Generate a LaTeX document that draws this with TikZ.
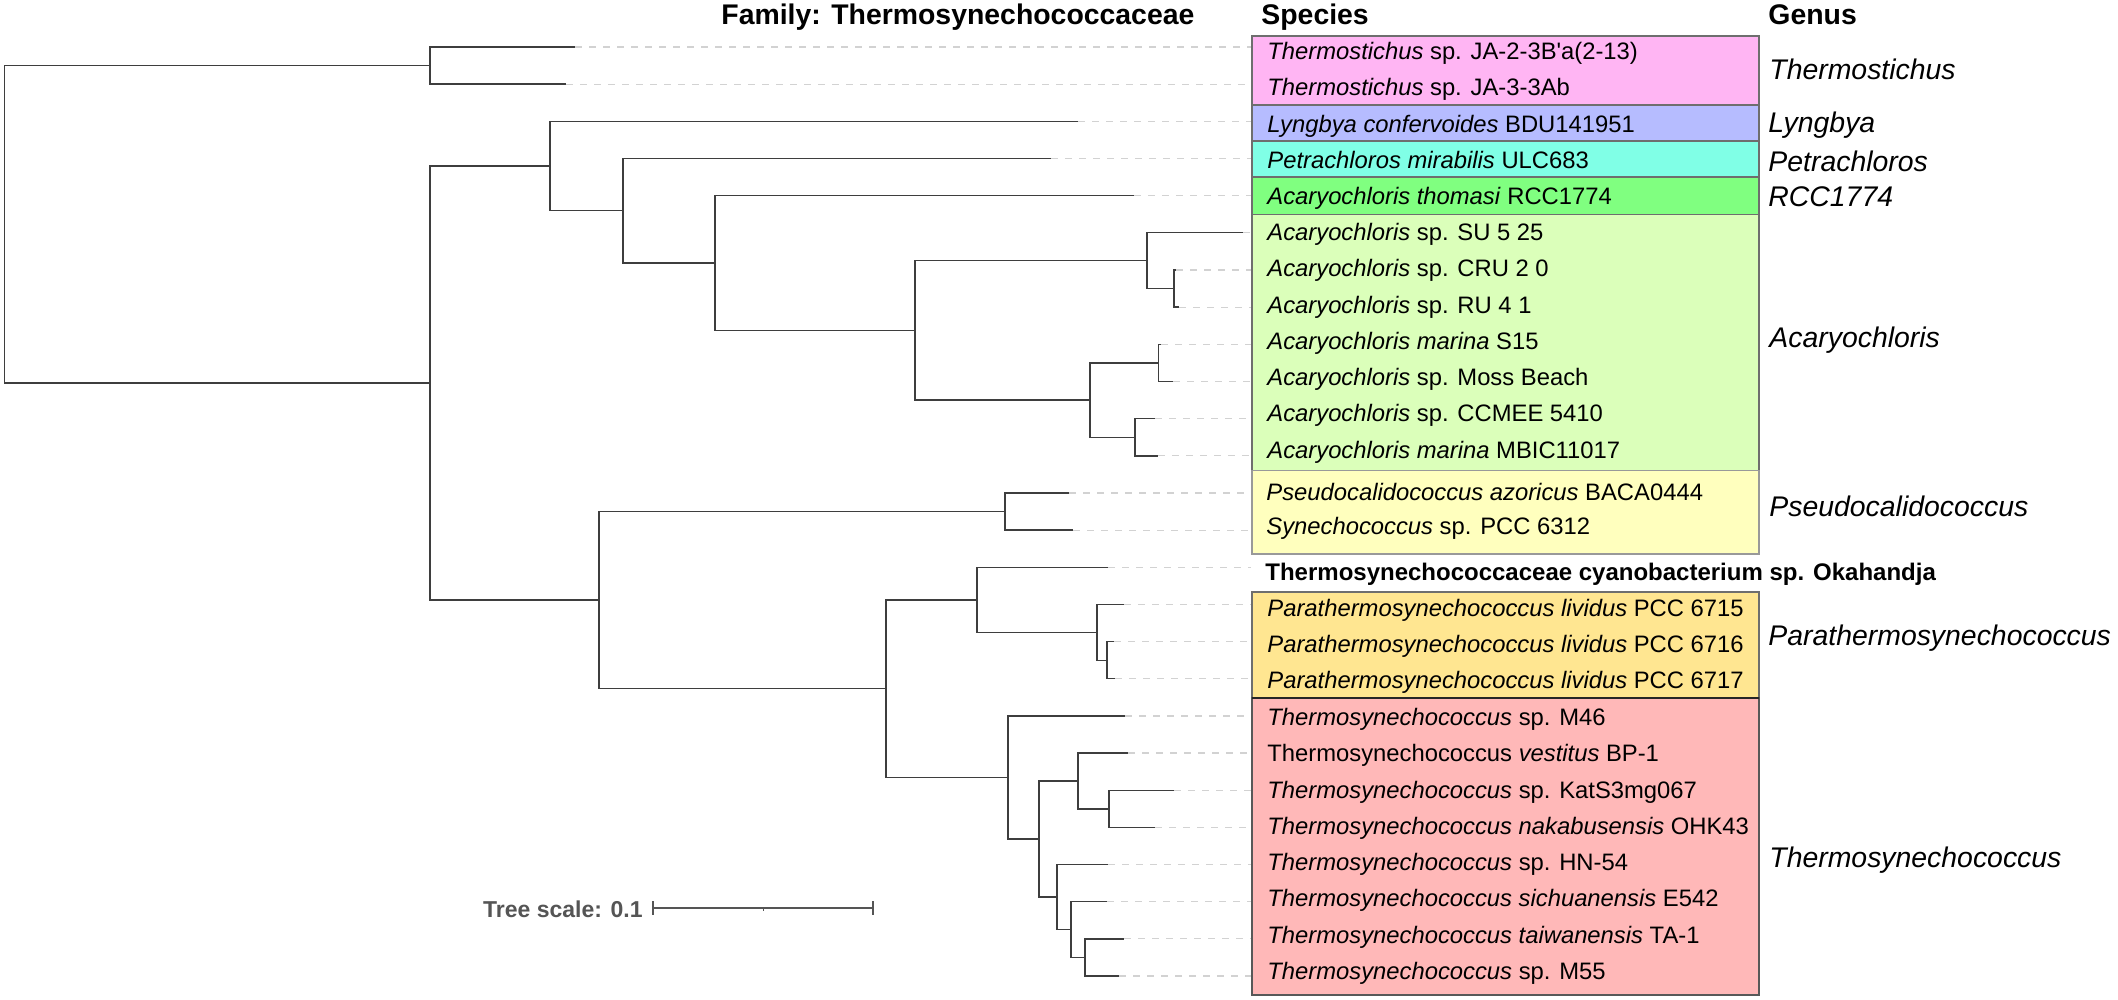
\documentclass[tikz,border=0pt]{standalone}
\usepackage{fontspec}
\setmainfont{Liberation Sans}
\newfontfamily\plainarial{Liberation Sans}
\definecolor{treeline}{HTML}{3E3E3E}
\definecolor{leadcol}{HTML}{D2D2D2}
\definecolor{boxline}{HTML}{6E6E6E}
\definecolor{scalecol}{HTML}{555555}
\definecolor{cTs}{HTML}{FFB5F3}
\definecolor{cLy}{HTML}{B6BCFF}
\definecolor{cPe}{HTML}{80FFE6}
\definecolor{cRC}{HTML}{80FF80}
\definecolor{cAc}{HTML}{DBFFBA}
\definecolor{cPs}{HTML}{FFFFBE}
\definecolor{cPa}{HTML}{FFE691}
\definecolor{cTh}{HTML}{FFB8B8}
\begin{document}
\begin{tikzpicture}[x=0.5pt,y=-0.5pt,
  br/.style={draw=treeline,line width=0.7pt},
  lead/.style={draw=leadcol,line width=0.6pt,dash pattern=on 3.5pt off 3.5pt},
  gbox/.style={draw=boxline,line width=0.6pt},
  sp/.style={anchor=base west,inner sep=0pt,font=\fontsize{11.9}{14}\selectfont},
  gen/.style={anchor=base west,inner sep=0pt,font=\fontsize{14.2}{17}\selectfont\itshape},
  hdr/.style={anchor=base west,inner sep=0pt,font=\fontsize{14.2}{17}\selectfont\bfseries}]
\useasboundingbox[fill=white] (0,0) rectangle (2118,1000);

% ---------- colour boxes ----------
\draw[gbox,fill=cTs] (1252,36) rectangle (1759,105);
\draw[gbox,fill=cLy] (1252,105) rectangle (1759,141);
\draw[gbox,fill=cPe] (1252,141) rectangle (1759,177);
\draw[gbox,fill=cRC] (1252,177) rectangle (1759,214.5);
\draw[gbox,fill=cAc] (1252,214.5) rectangle (1759,470.5);
\draw[gbox,fill=cPs,draw=boxline!70] (1252,470.5) rectangle (1759,554);
\draw[gbox,fill=cPa] (1252,592) rectangle (1759,698);
\draw[gbox,fill=cTh,draw=boxline!80!black] (1252,698) rectangle (1759,995);
\draw[draw=black!85,line width=0.9pt] (1252,698) -- (1759,698);

% ---------- tips ----------
\coordinate (t0) at (575,47);
\coordinate (t1) at (566,84.2);
\coordinate (t2) at (1078,121.3);
\coordinate (t3) at (1051,158.5);
\coordinate (t4) at (1134,195.6);
\coordinate (t5) at (1243,232.8);
\coordinate (t6) at (1176,270.0);
\coordinate (t7) at (1179,307.1);
\coordinate (t8) at (1161,344.3);
\coordinate (t9) at (1173,381.4);
\coordinate (t10) at (1155,418.6);
\coordinate (t11) at (1158,455.8);
\coordinate (t12) at (1069,492.9);
\coordinate (t13) at (1073,530.1);
\coordinate (t14) at (1108,567.2);
\coordinate (t15) at (1124,604.4);
\coordinate (t16) at (1114,641.6);
\coordinate (t17) at (1115,678.7);
\coordinate (t18) at (1125,715.9);
\coordinate (t19) at (1128,753.0);
\coordinate (t20) at (1174,790.2);
\coordinate (t21) at (1155,827.4);
\coordinate (t22) at (1108,864.5);
\coordinate (t23) at (1107,901.7);
\coordinate (t24) at (1124,938.8);
\coordinate (t25) at (1119,976.0);

% ---------- internal nodes ----------
\coordinate (root) at (4.5,224.3);
\coordinate (nTs) at (430,65.6);
\coordinate (nA) at (430,383.0);
\coordinate (nLyn) at (550,166.0);
\coordinate (nPet) at (623,210.8);
\coordinate (nRCC) at (715,263.0);
\coordinate (nAc) at (915,330.4);
\coordinate (nSU) at (1147,260.7);
\coordinate (nCRU) at (1174,288.6);
\coordinate (nAc2) at (1090,400.0);
\coordinate (nS15) at (1158.5,362.9);
\coordinate (nCC) at (1135,437.2);
\coordinate (nLow) at (599,600.1);
\coordinate (nPs) at (1005,511.5);
\coordinate (nTP) at (886,688.6);
\coordinate (nOk) at (977,599.8);
\coordinate (nPara) at (1097,632.3);
\coordinate (nP67) at (1107,660.2);
\coordinate (nT) at (1008,777.4);
\coordinate (nT2) at (1039,839.0);
\coordinate (nBP) at (1078,780.9);
\coordinate (nK) at (1109,808.8);
\coordinate (nHN) at (1057,897.0);
\coordinate (nE) at (1071,929.6);
\coordinate (nTA) at (1085,957.4);

% ---------- leader lines ----------
\foreach \i in {0,...,25}{\draw[lead] (t\i) -- (t\i -| 1251,0);}

% ---------- branches ----------
\draw[br] (root) |- (nTs);  \draw[br] (root) |- (nA);
\draw[br] (nTs) |- (t0);    \draw[br] (nTs) |- (t1);
\draw[br] (nA) |- (nLyn);   \draw[br] (nA) |- (nLow);
\draw[br] (nLyn) |- (t2);   \draw[br] (nLyn) |- (nPet);
\draw[br] (nPet) |- (t3);   \draw[br] (nPet) |- (nRCC);
\draw[br] (nRCC) |- (t4);   \draw[br] (nRCC) |- (nAc);
\draw[br] (nAc) |- (nSU);   \draw[br] (nAc) |- (nAc2);
\draw[br] (nSU) |- (t5);    \draw[br] (nSU) |- (nCRU);
\draw[br] (nCRU) |- (t6);   \draw[br] (nCRU) |- (t7);
\draw[br] (nAc2) |- (nS15); \draw[br] (nAc2) |- (nCC);
\draw[br] (nS15) |- (t8);   \draw[br] (nS15) |- (t9);
\draw[br] (nCC) |- (t10);   \draw[br] (nCC) |- (t11);
\draw[br] (nLow) |- (nPs);  \draw[br] (nLow) |- (nTP);
\draw[br] (nPs) |- (t12);   \draw[br] (nPs) |- (t13);
\draw[br] (nTP) |- (nOk);   \draw[br] (nTP) |- (nT);
\draw[br] (nOk) |- (t14);   \draw[br] (nOk) |- (nPara);
\draw[br] (nPara) |- (t15); \draw[br] (nPara) |- (nP67);
\draw[br] (nP67) |- (t16);  \draw[br] (nP67) |- (t17);
\draw[br] (nT) |- (t18);    \draw[br] (nT) |- (nT2);
\draw[br] (nT2) |- (nBP);   \draw[br] (nT2) |- (nHN);
\draw[br] (nBP) |- (t19);   \draw[br] (nBP) |- (nK);
\draw[br] (nK) |- (t20);    \draw[br] (nK) |- (t21);
\draw[br] (nHN) |- (t22);   \draw[br] (nHN) |- (nE);
\draw[br] (nE) |- (t23);    \draw[br] (nE) |- (nTA);
\draw[br] (nTA) |- (t24);   \draw[br] (nTA) |- (t25);

% ---------- headers ----------
\node[hdr] (hfam) at (721,25) {Family: Thermosynechococcaceae};
\node[hdr] (hsp) at (1261,25) {Species};
\node[hdr] (hgen) at (1768,25) {Genus};

% ---------- species labels ----------
\node[sp] (s0) at (1267,60) {\textit{Thermostichus} sp. JA-2-3B{\plainarial'}a(2-13)};
\node[sp] (s1) at (1267,96) {\textit{Thermostichus} sp. JA-3-3Ab};
\node[sp] (s2) at (1267,132.5) {\textit{Lyngbya confervoides} BDU141951};
\node[sp] (s3) at (1267,168.5) {\textit{Petrachloros mirabilis} ULC683};
\node[sp] (s4) at (1267,204.5) {\textit{Acaryochloris thomasi} RCC1774};
\node[sp] (s5) at (1267,240.5) {\textit{Acaryochloris} sp. SU 5 25};
\node[sp] (s6) at (1267,277) {\textit{Acaryochloris} sp. CRU 2 0};
\node[sp] (s7) at (1267,313) {\textit{Acaryochloris} sp. RU 4 1};
\node[sp] (s8) at (1267,349) {\textit{Acaryochloris marina} S15};
\node[sp] (s9) at (1267,385.5) {\textit{Acaryochloris} sp. Moss Beach};
\node[sp] (s10) at (1267,421.7) {\textit{Acaryochloris} sp. CCMEE 5410};
\node[sp] (s11) at (1267,458.3) {\textit{Acaryochloris marina} MBIC11017};
\node[sp] (s12) at (1266,500) {\textit{Pseudocalidococcus azoricus} BACA0444};
\node[sp] (s13) at (1266,534) {\textit{Synechococcus} sp. PCC 6312};
\node[sp,font=\fontsize{12}{14}\selectfont\bfseries] (s14) at (1265,580) {Thermosynechococcaceae cyanobacterium sp. Okahandja};
\node[sp] (s15) at (1267,616) {\textit{Parathermosynechococcus lividus} PCC 6715};
\node[sp] (s16) at (1267,652) {\textit{Parathermosynechococcus lividus} PCC 6716};
\node[sp] (s17) at (1267,688) {\textit{Parathermosynechococcus lividus} PCC 6717};
\node[sp] (s18) at (1267,725) {\textit{Thermosynechococcus} sp. M46};
\node[sp] (s19) at (1267,761.7) {Thermosynechococcus \textit{vestitus} BP-1};
\node[sp] (s20) at (1267,798.3) {\textit{Thermosynechococcus} sp. KatS3mg067};
\node[sp] (s21) at (1267,834.3) {\textit{Thermosynechococcus nakabusensis} OHK43};
\node[sp] (s22) at (1267,870.7) {\textit{Thermosynechococcus} sp. HN-54};
\node[sp] (s23) at (1267,906.7) {\textit{Thermosynechococcus sichuanensis} E542};
\node[sp] (s24) at (1267,943.3) {\textit{Thermosynechococcus taiwanensis} TA-1};
\node[sp] (s25) at (1267,979.3) {\textit{Thermosynechococcus} sp. M55};

% ---------- genus labels ----------
\node[gen] (g1) at (1769,80) {Thermostichus};
\node[gen] (g2) at (1768,132.7) {Lyngbya};
\node[gen] (g3) at (1768,171.7) {Petrachloros};
\node[gen] (g4) at (1768,206.7) {RCC1774};
\node[gen] (g5) at (1769,347.7) {Acaryochloris};
\node[gen] (g6) at (1769,516) {Pseudocalidococcus};
\node[gen] (g7) at (1768,645) {Parathermosynechococcus};
\node[gen] (g8) at (1769,867.3) {Thermosynechococcus};

% ---------- tree scale ----------
\coordinate (sbL) at (653,908);
\coordinate (sbM) at (763,908);
\coordinate (sbR) at (873,908);
\node[anchor=base east,inner sep=0pt,text=scalecol,font=\fontsize{11.5}{14}\selectfont\bfseries] (scl) at (643,917) {Tree scale: 0.1};
\draw[draw=scalecol,line width=0.6pt] (sbL) -- (sbR);
\draw[draw=scalecol,line width=0.6pt] ([yshift=3.5pt]sbL) -- ([yshift=-3.5pt]sbL);
\draw[draw=scalecol,line width=0.6pt] ([yshift=3.5pt]sbR) -- ([yshift=-3.5pt]sbR);
\draw[draw=scalecol,line width=0.5pt] (sbM) -- ([yshift=-1.5pt]sbM);
\end{tikzpicture}
\end{document}
